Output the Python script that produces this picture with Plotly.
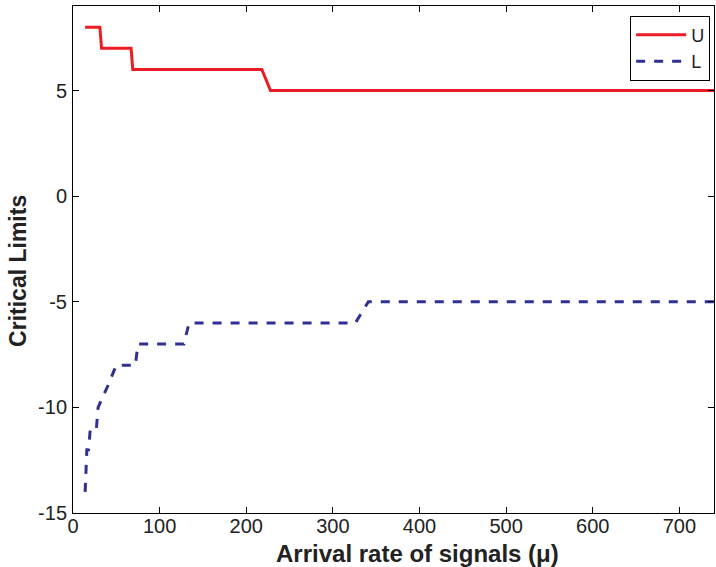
import plotly.graph_objects as go

u_x = [14, 31, 33, 67, 69, 218, 228, 740]
u_y = [8, 8, 7, 7, 6, 6, 5, 5]
l_x = [14, 15, 16, 18, 20, 27, 29, 40, 50, 72, 75, 128, 134, 326, 341, 740]
l_y = [-14, -13, -12, -12, -11, -11, -10, -9, -8, -8, -7, -7, -6, -6, -5, -5]
x_ticks = [0, 100, 200, 300, 400, 500, 600, 700]
y_ticks = [-15, -10, -5, 0, 5]
y_tick_text = ["-15", "-10", "-5", "0", "5"]

fig = go.Figure()
fig.add_trace(go.Scatter(x=u_x, y=u_y, mode="lines", name="U",
                         line=dict(color="#ed1c24", width=3)))
fig.add_trace(go.Scatter(x=l_x, y=l_y, mode="lines", name="L",
                         line=dict(color="#2e3192", width=3, dash="dash")))

axis_common = dict(showgrid=False, zeroline=False, showline=True, linecolor="black",
                   linewidth=1, mirror="ticks", ticks="inside", ticklen=6,
                   tickcolor="black", tickfont=dict(size=20, color="#222"),
                   automargin=False)
fig.update_layout(
    width=716, height=567,
    margin=dict(l=73, r=2, t=6, b=54),
    paper_bgcolor="white", plot_bgcolor="white",
    font=dict(family="Liberation Sans, Arial, sans-serif", color="#222"),
    xaxis=dict(range=[0, 740], tickvals=x_ticks, ticklabelstandoff=-5, **axis_common),
    yaxis=dict(range=[-15, 9], tickvals=y_ticks, ticktext=y_tick_text,
               ticklabelstandoff=1, **axis_common),
    legend=dict(x=0.994, y=0.981, xanchor="right", yanchor="top",
                bordercolor="black", borderwidth=1, bgcolor="white",
                font=dict(size=18), tracegroupgap=0, itemwidth=50),
    showlegend=True,
    annotations=[
        dict(text="<b>Arrival rate of signals (μ)</b>", xref="paper", yref="paper",
             x=0.537, y=-0.079, xanchor="center", yanchor="middle", showarrow=False,
             font=dict(size=24, color="#222")),
        dict(text="<b>Critical Limits</b>", xref="paper", yref="paper",
             x=-0.087, y=0.478, xanchor="center", yanchor="middle", showarrow=False,
             textangle=-90, font=dict(size=23, color="#222")),
    ],
)
fig.write_html("out.html")
